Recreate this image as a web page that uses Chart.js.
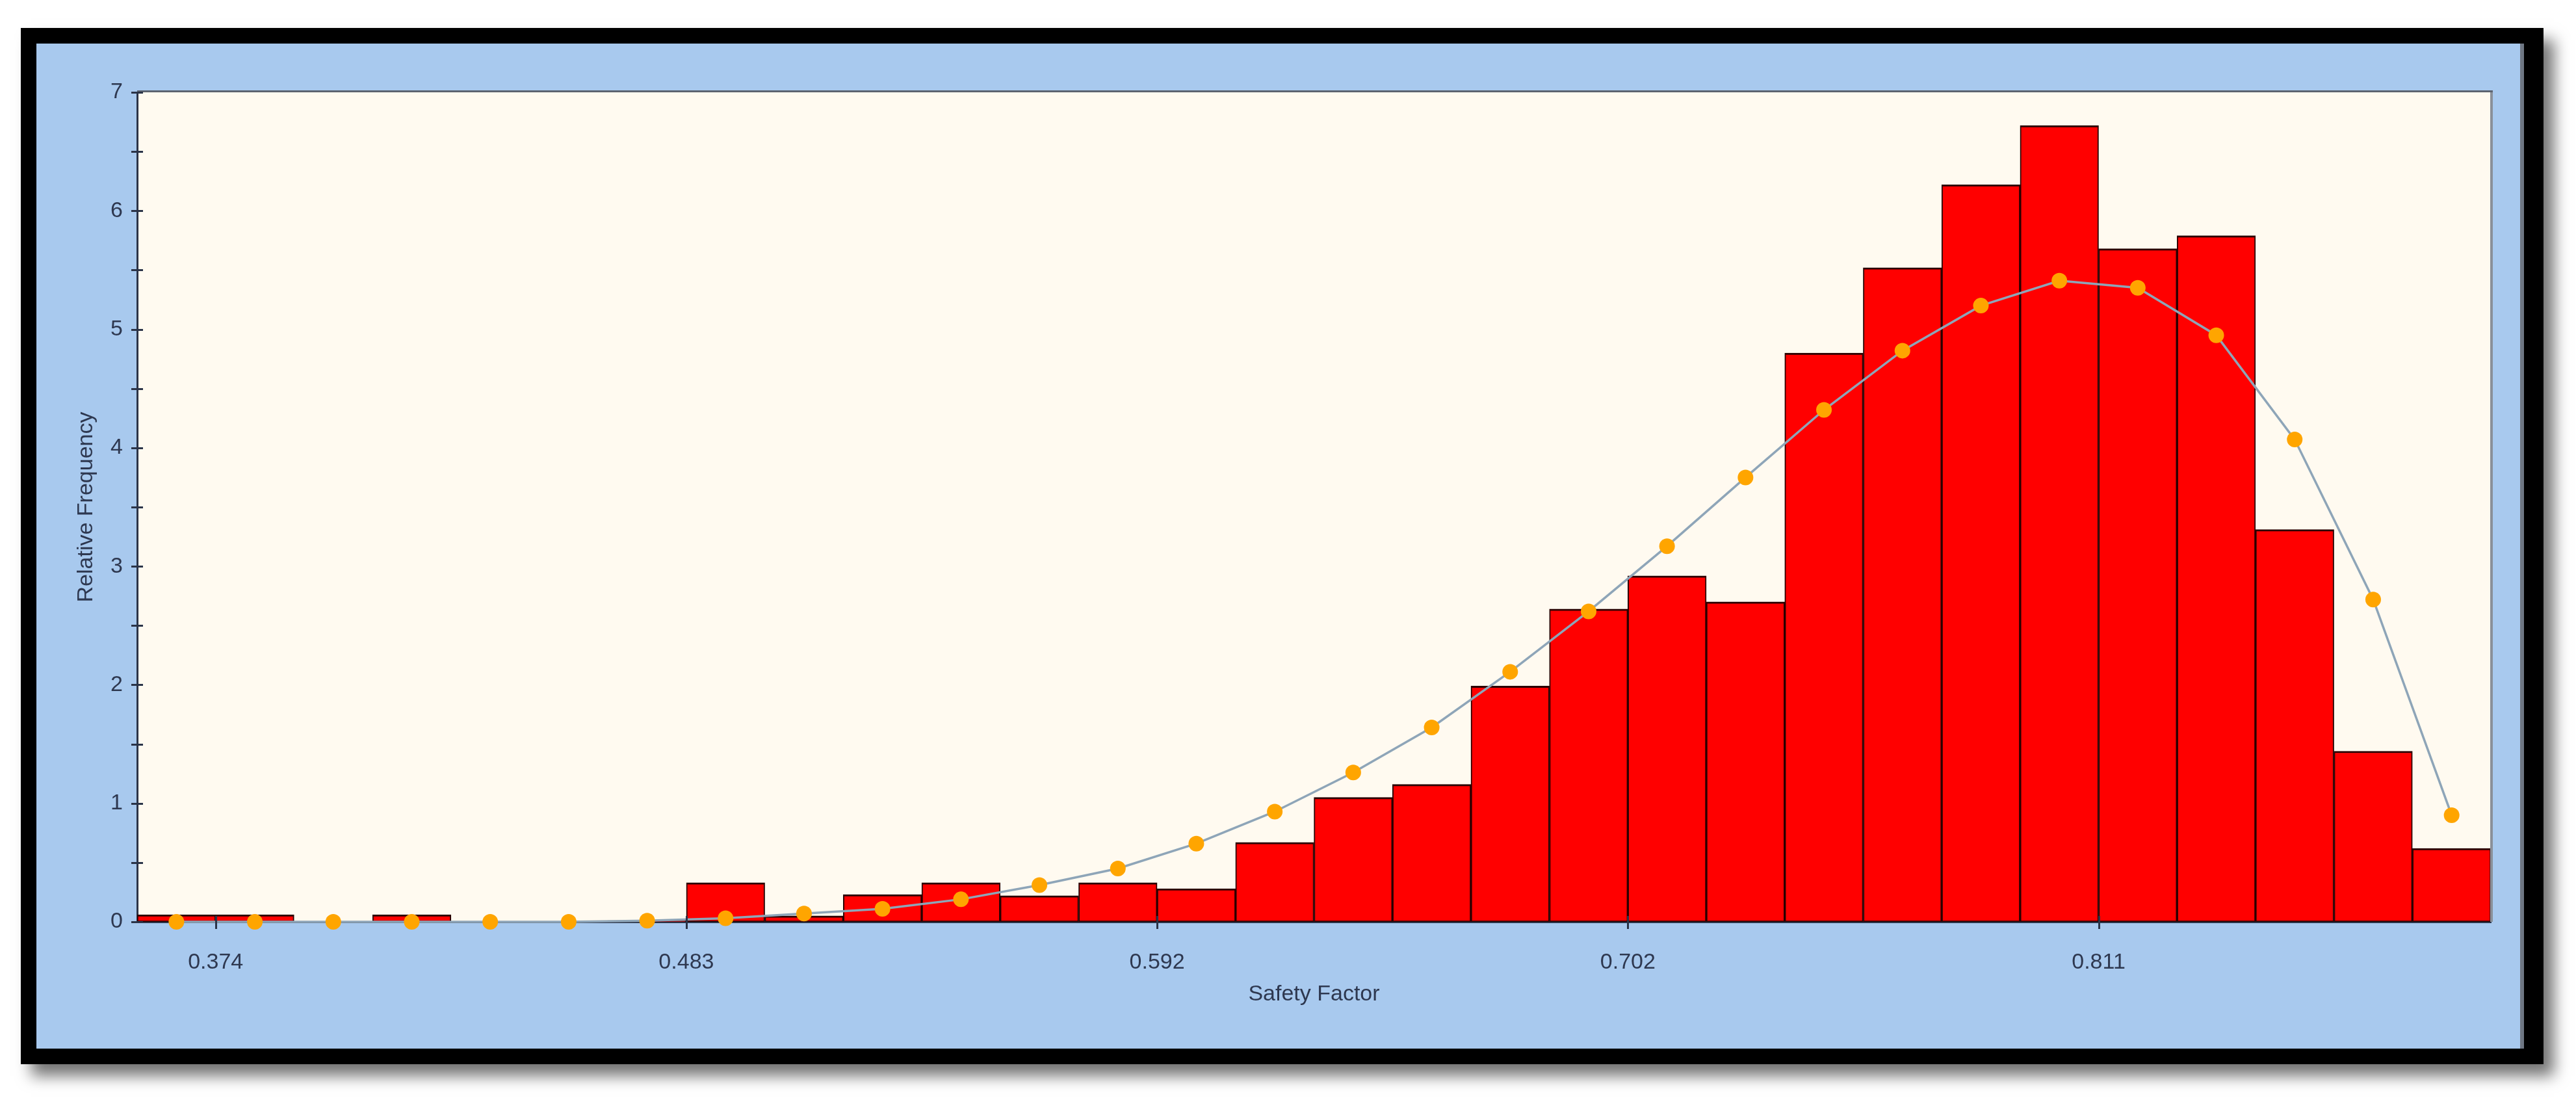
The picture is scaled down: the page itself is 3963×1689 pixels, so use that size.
<!DOCTYPE html>
<html>
<head>
    <title>Safety Factor Histogram</title>
    <script src="https://cdn.jsdelivr.net/npm/chart.js@4.4.1/dist/chart.umd.min.js"></script>
    <style>
        html, body {
            margin: 0;
            padding: 0;
            background: #fff;
        }
        body {
            width: 3963px;
            height: 1689px;
            position: relative;
            overflow: hidden;
        }
        .frame {
            position: absolute;
            left: 32px;
            top: 43px;
            width: 3881px;
            height: 1594px;
            background: #000;
            box-shadow: 16px 18px 22px rgba(0, 0, 0, 0.55);
        }
        .panel {
            position: absolute;
            left: 24px;
            top: 24px;
            width: 3821px;
            height: 1546px;
            background: #a8c9ee;
            border-right: 6px solid #6f7784;
        }
        canvas {
            display: block;
        }
    </style>
</head>
<body>
    <div class="frame">
        <div class="panel">
            <canvas id="histChart" width="3821" height="1546"></canvas>
        </div>
    </div>

    <script>
        // bin centres of the safety factor histogram
        const binCenters = [
            0.36490, 0.38310, 0.40131, 0.41952, 0.43773, 0.45594,
            0.47415, 0.49235, 0.51056, 0.52877, 0.54698, 0.56519,
            0.58340, 0.60160, 0.61981, 0.63802, 0.65623, 0.67444,
            0.69265, 0.71085, 0.72906, 0.74727, 0.76548, 0.78369,
            0.80190, 0.82010, 0.83831, 0.85652, 0.87473, 0.89294
        ];
        // relative frequency of each bin (red bars)
        const barHeights = [
            0.06, 0.06, 0, 0.06, 0, 0,
            0.01, 0.33, 0.05, 0.23, 0.33, 0.22,
            0.33, 0.28, 0.67, 1.05, 1.16, 1.99,
            2.64, 2.92, 2.70, 4.80, 5.52, 6.22,
            6.72, 5.68, 5.79, 3.31, 1.44, 0.62
        ];
        // fitted distribution at the bin centres (orange points)
        const fitValues = [
            0, 0, 0, 0, 0, 0,
            0.01, 0.03, 0.07, 0.11, 0.19, 0.31,
            0.45, 0.66, 0.93, 1.26, 1.64, 2.11,
            2.62, 3.17, 3.75, 4.32, 4.82, 5.20,
            5.41, 5.35, 4.95, 4.07, 2.72, 0.90
        ];
        // x axis ticks sit on bin edges
        const xTickValues = [0.374, 0.48325, 0.5925, 0.70175, 0.811];
        const xTickLabels = ['0.374', '0.483', '0.592', '0.702', '0.811'];
        const xMin = 0.35579;
        const xMax = 0.90204;
        const yMax = 7;

        const axisColor = '#2b3448';
        const labelColor = '#2e3850';

        Chart.defaults.font.family = "'Liberation Sans', Arial, sans-serif";

        const plotDecor = {
            id: 'plotDecor',
            beforeDraw(chart) {
                const { ctx, chartArea: a } = chart;
                ctx.save();
                ctx.fillStyle = '#fffaf0';
                ctx.fillRect(a.left, a.top, a.right - a.left, a.bottom - a.top);
                ctx.restore();
            },
            afterDraw(chart) {
                const { ctx, chartArea: a, scales } = chart;
                ctx.save();
                // top and right edge of the plot box
                ctx.lineWidth = 3;
                ctx.strokeStyle = '#5d6470';
                ctx.beginPath();
                ctx.moveTo(a.left, a.top - 1.5);
                ctx.lineTo(a.right + 3, a.top - 1.5);
                ctx.stroke();
                ctx.strokeStyle = '#8a9099';
                ctx.lineWidth = 4;
                ctx.beginPath();
                ctx.moveTo(a.right + 1, a.top);
                ctx.lineTo(a.right + 1, a.bottom);
                ctx.stroke();

                // tick marks crossing the axes
                ctx.strokeStyle = axisColor;
                ctx.lineWidth = 3;
                scales.y.ticks.forEach(t => {
                    const py = Math.round(scales.y.getPixelForValue(t.value)) + 0.5;
                    ctx.beginPath();
                    ctx.moveTo(a.left - 9, py);
                    ctx.lineTo(a.left + 9, py);
                    ctx.stroke();
                });
                scales.x.ticks.forEach(t => {
                    const px = Math.round(scales.x.getPixelForValue(t.value)) + 0.5;
                    ctx.beginPath();
                    ctx.moveTo(px, a.bottom - 9);
                    ctx.lineTo(px, a.bottom + 11);
                    ctx.stroke();
                });
                ctx.restore();
            }
        };

        const ctx = document.getElementById('histChart').getContext('2d');
        const chart = new Chart(ctx, {
            type: 'bar',
            data: {
                datasets: [
                    {
                        type: 'line',
                        label: 'Fit',
                        data: binCenters.map((c, i) => ({ x: c, y: fitValues[i] })),
                        borderColor: '#8ea5b8',
                        borderWidth: 3.5,
                        tension: 0,
                        pointRadius: 12,
                        pointBorderWidth: 0,
                        pointBackgroundColor: '#ffa500',
                        pointBorderColor: '#ffa500',
                        clip: false,
                        order: 0
                    },
                    {
                        type: 'bar',
                        label: 'Relative Frequency',
                        data: binCenters.map((c, i) => ({ x: c, y: barHeights[i] })),
                        backgroundColor: '#ff0000',
                        borderColor: '#2a0000',
                        borderWidth: { top: 3, left: 2, right: 2, bottom: 2 },
                        borderSkipped: false,
                        barPercentage: 1,
                        categoryPercentage: 1,
                        order: 1
                    }
                ]
            },
            options: {
                responsive: false,
                animation: false,
                layout: {
                    autoPadding: false,
                    padding: { top: 75, right: 45, left: 0, bottom: 0 }
                },
                plugins: {
                    legend: { display: false },
                    tooltip: { enabled: false }
                },
                scales: {
                    x: {
                        type: 'linear',
                        offset: false,
                        min: xMin,
                        max: xMax,
                        grid: { display: false },
                        border: { display: true, color: axisColor, width: 3 },
                        afterBuildTicks: scale => {
                            scale.ticks = xTickValues.map(v => ({ value: v }));
                        },
                        afterFit: scale => {
                            scale.height = 195;
                        },
                        ticks: {
                            autoSkip: false,
                            maxRotation: 0,
                            padding: 34,
                            color: labelColor,
                            font: { size: 34 },
                            callback: (value, index) => xTickLabels[index]
                        },
                        title: {
                            display: true,
                            text: 'Safety Factor',
                            color: labelColor,
                            font: { size: 34 },
                            padding: { top: 0, bottom: 63 }
                        }
                    },
                    y: {
                        min: 0,
                        max: yMax,
                        grid: { display: false },
                        border: { display: true, color: axisColor, width: 3 },
                        afterFit: scale => {
                            scale.width = 155;
                        },
                        ticks: {
                            stepSize: 0.5,
                            autoSkip: false,
                            padding: 14,
                            color: labelColor,
                            font: { size: 34 },
                            callback: value => (Number.isInteger(value) ? String(value) : '')
                        },
                        title: {
                            display: true,
                            text: 'Relative Frequency',
                            color: labelColor,
                            font: { size: 34 },
                            padding: { top: 56, bottom: 0 }
                        }
                    }
                }
            },
            plugins: [plotDecor]
        });
    </script>
</body>
</html>
